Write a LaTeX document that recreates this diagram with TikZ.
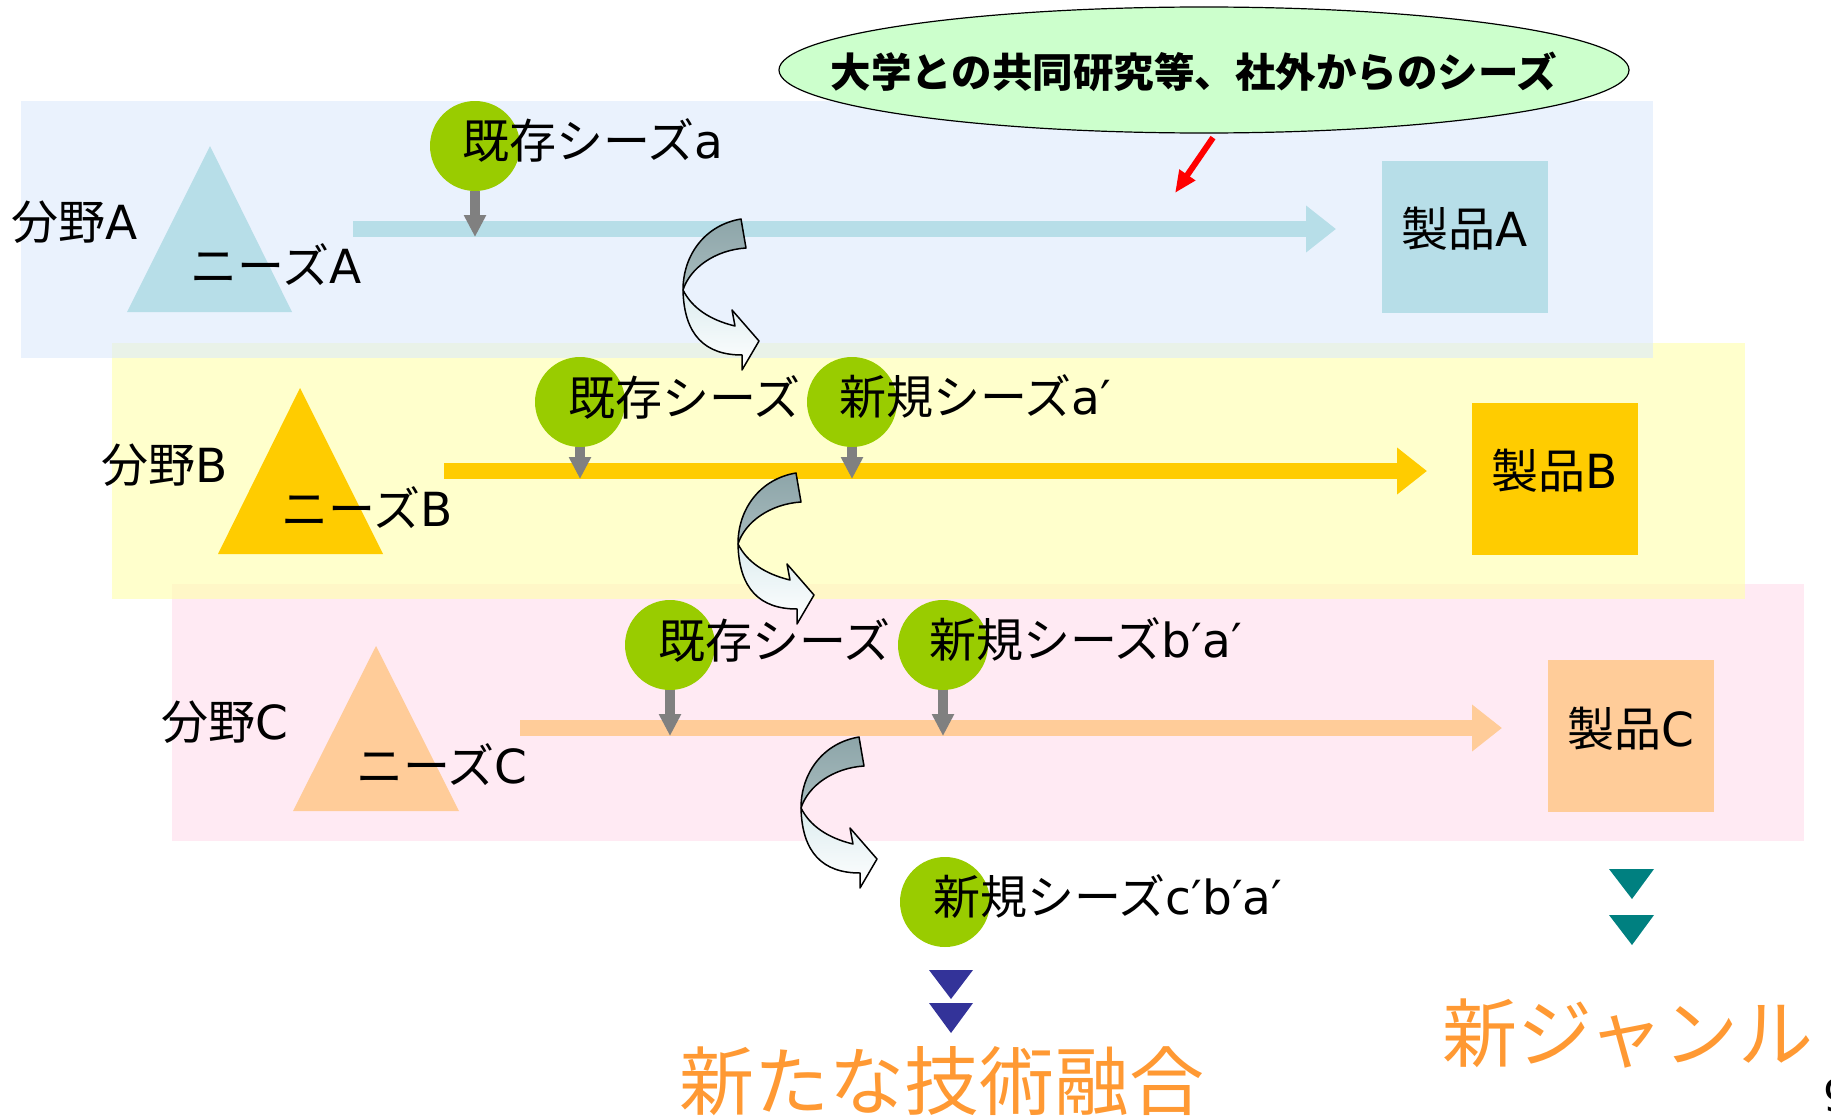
\documentclass[tikz,border=0pt]{standalone}
\usepackage{fontspec}
\setmainfont{DejaVu Sans}
\newfontfamily\jp{Noto Sans CJK JP}
\usepackage{tikz}
\usetikzlibrary{arrows.meta,shapes.geometric,positioning,calc}

\definecolor{cA}{HTML}{B7DEE8}
\definecolor{cB}{HTML}{FFCC00}
\definecolor{cC}{HTML}{FFCC99}
\definecolor{bandA}{RGB}{220,233,252}
\definecolor{bandB}{RGB}{255,255,170}
\definecolor{bandC}{RGB}{255,220,235}
\definecolor{seedG}{HTML}{99CC00}
\definecolor{talkG}{HTML}{CCFFCC}
\definecolor{twD}{HTML}{8DA5A9}
\definecolor{twL}{HTML}{A8BCBE}
\definecolor{twP}{HTML}{DCECEF}
\definecolor{fuse}{HTML}{FF9933}
\definecolor{navyT}{HTML}{333399}
\definecolor{tealT}{HTML}{008080}

\newcommand{\jtxt}[1]{{\jp #1}}
\newcommand{\twist}{%
\path[draw,line width=1.5pt,line join=round,top color=twD,bottom color=twL]
  (741,219) .. controls (705,225) and (683,255) .. (683,290)
  .. controls (690,268) and (715,250) .. (746,248) -- cycle;
\path[draw,line width=1.5pt,line join=round,top color=twP,bottom color=white]
  (683,290) .. controls (684,335) and (705,355) .. (742,355) -- (742,370) -- (759,341)
  -- (732,310) -- (735,326) .. controls (710,320) and (692,308) .. (683,290) -- cycle;}

\begin{document}
\begin{tikzpicture}[x=1pt,y=-1pt,
  lbl/.style={inner sep=0pt,font=\fontsize{47}{50}\selectfont},
  seed/.style={circle,fill=seedG,minimum size=90pt,inner sep=0pt},
  prod/.style={minimum width=166pt,minimum height=152pt,inner sep=0pt},
  flow/.style={line width=16pt,-{Triangle[width=45pt,length=30pt]}},
  drop/.style={draw=gray,line width=10pt,-{Triangle[width=21pt,length=22pt]}},
  band/.style={opacity=0.6},
  fin/.style={inner sep=0pt,text=fuse,font=\jp\fontsize{75}{80}\selectfont}]
\useasboundingbox (0,0) rectangle (1831,1116);

\fill[bandC,band] (172,584) rectangle (1804,841);
\fill[bandB,band] (112,343) rectangle (1745,599);
\fill[bandA,band] (21,101) rectangle (1653,358);

\fill[cA] (127,312) -- (292,312) -- (210,146) -- cycle;
\fill[cB] (218,554) -- (383,554) -- (300,388) -- cycle;
\fill[cC] (293,811) -- (459,811) -- (376,646) -- cycle;

\coordinate (fa0) at (353,229);
\coordinate (fa1) at (1336,229);
\coordinate (fb0) at (444,471);
\coordinate (fb1) at (1427,471);
\coordinate (fc0) at (520,728);
\coordinate (fc1) at (1502,728);
\draw[flow,cA] (fa0) -- (fa1);
\draw[flow,cB] (fb0) -- (fb1);
\draw[flow,cC] (fc0) -- (fc1);

\node[lbl] (fA) at (75,222) {\jtxt{分野}A};
\node[lbl] (needA) at (276,265) {\jtxt{ニーズ}A};
\node[lbl] (fB) at (165,465) {\jtxt{分野}B};
\node[lbl] (needB) at (367,508) {\jtxt{ニーズ}B};
\node[lbl] (fC) at (225,722) {\jtxt{分野}C};
\node[lbl] (needC) at (442,765) {\jtxt{ニーズ}C};

\node[seed] (sa) at (475,146) {};
\node[seed] (sb1) at (580,402) {};
\node[seed] (sb2) at (852,402) {};
\node[seed] (sc1) at (670,645) {};
\node[seed] (sc2) at (943,645) {};
\node[seed] (sd) at (945,902) {};

\draw[drop] (sa.south) -- ([yshift=-8pt]sa.south |- fa0);
\draw[drop] (sb1.south) -- ([yshift=-8pt]sb1.south |- fb0);
\draw[drop] (sb2.south) -- ([yshift=-8pt]sb2.south |- fb0);
\draw[drop] (sc1.south) -- ([yshift=-8pt]sc1.south |- fc0);
\draw[drop] (sc2.south) -- ([yshift=-8pt]sc2.south |- fc0);

\node[lbl,anchor=west,xshift=-13pt,yshift=6pt] (ka) at (sa) {\jtxt{既存シーズ}a};
\node[lbl,anchor=west,xshift=-12pt,yshift=5pt] (kb) at (sb1) {\jtxt{既存シーズ}};
\node[lbl,anchor=west,xshift=-13pt,yshift=5pt] (nb) at (sb2) {\jtxt{新規シーズ}a′};
\node[lbl,anchor=west,xshift=-12pt,yshift=5pt] (kc) at (sc1) {\jtxt{既存シーズ}};
\node[lbl,anchor=west,xshift=-14pt,yshift=5pt] (nc) at (sc2) {\jtxt{新規シーズ}b′a′};
\node[lbl,anchor=west,xshift=-12pt,yshift=5pt] (nd) at (sd) {\jtxt{新規シーズ}c′b′a′};

\node[prod,fill=cA] (pA) at (1465,237) {};
\node[prod,fill=cB] (pB) at (1555,479) {};
\node[prod,fill=cC] (pC) at (1631,736) {};
\node[lbl] (tA) at ([yshift=8pt]pA) {\jtxt{製品}A};
\node[lbl] (tB) at ([yshift=8pt]pB) {\jtxt{製品}B};
\node[lbl] (tC) at ([yshift=7pt]pC) {\jtxt{製品}C};

\twist
\begin{scope}[shift={(55,254)}]
\twist
\end{scope}
\begin{scope}[shift={(118,518)}]
\twist
\end{scope}

\node[ellipse,draw,line width=1.2pt,fill=talkG,minimum width=850pt,minimum height=126pt,inner sep=0pt] (uni) at (1204,70) {};
\node[inner sep=0pt,font=\jp\bfseries\fontsize{40.5}{44}\selectfont] (unitxt) at (1194,72) {大学との共同研究等、社外からのシーズ};
\coordinate (ra) at (1175,193);
\draw[red,line width=6pt,-{Triangle[width=18pt,length=22pt]}] ([xshift=9pt,yshift=-4pt]uni.south) -- (ra);

\fill[navyT] (929,970) -- (973,970) -- (951,999) -- cycle;
\fill[navyT] (929,1003) -- (973,1003) -- (951,1033) -- cycle;
\fill[tealT] (1609,869) -- (1654,869) -- (1632,899) -- cycle;
\fill[tealT] (1609,915) -- (1654,915) -- (1632,945) -- cycle;

\node[fin] (fusion) at (942,1081) {新たな技術融合};
\node[fin] (genre) at (1628,1034) {新ジャンル};
\node[inner sep=0pt,anchor=north west,font=\fontsize{44}{48}\selectfont] (pg) at (1823,1079) {9};
\end{tikzpicture}
\end{document}
